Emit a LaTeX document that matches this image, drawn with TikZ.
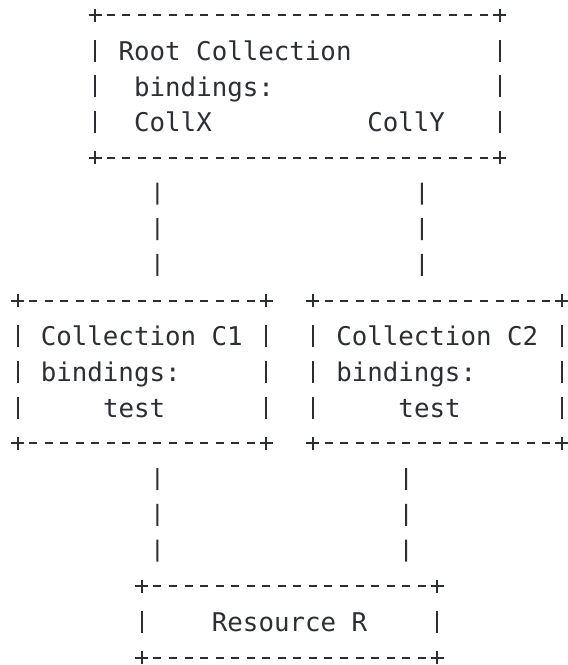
\documentclass[tikz,border=0pt]{standalone}
\usepackage{fontspec}
\setmonofont{DejaVu Sans Mono}
\usepackage{tikz}
\usetikzlibrary{positioning}
\definecolor{ink}{HTML}{2B2E33}
\newlength{\cw}\setlength{\cw}{15.55pt}
\newcommand{\colgap}[1]{\hspace*{#1\cw}}
\tikzstyle{ascii} = [rectangle, draw=none, inner xsep=1.5\cw, inner ysep=0pt, outer sep=0pt, align=left, text=ink, font=\ttfamily\fontsize{25.8}{35.7}\selectfont]
\tikzstyle{rootbox} = [ascii, text width=23\cw, minimum width=26\cw, minimum height=142.8pt]
\tikzstyle{collbox} = [ascii, text width=13\cw, minimum width=16\cw, minimum height=142.8pt]
\tikzstyle{resbox} = [ascii, align=center, text width=16\cw, minimum width=19\cw, minimum height=71.4pt]
\tikzstyle{hrule} = [draw=ink, line width=2pt, dash pattern=on 8pt off 7.55pt, dash phase=4pt]
\tikzstyle{vrule} = [draw=ink, line width=2pt, dash pattern=on 22pt off 13.7pt, shorten <=24.7pt, shorten >=24.7pt]
\newcommand{\corners}[1]{%
  \foreach \k in {north west,north east,south west,south east}
    \draw[ink, line width=2pt] ([xshift=-6.5pt]#1.\k) -- ([xshift=6.5pt]#1.\k)
      ([yshift=-6.5pt]#1.\k) -- ([yshift=6.5pt]#1.\k);}
\newcommand{\frameit}[1]{%
  \draw[hrule] (#1.north west) -- (#1.north east) (#1.south west) -- (#1.south east);
  \draw[vrule] (#1.north west) -- (#1.south west);
  \draw[vrule] (#1.north east) -- (#1.south east);
  \corners{#1}}
\begin{document}
\begin{tikzpicture}[x=1pt, y=-1pt]
  \useasboundingbox (0,0) rectangle (568,665);
  \node (root) [rootbox] at (297.4,86.4) {Root\colgap{1}Collection\\\colgap{1}bindings:\\\colgap{1}CollX\colgap{10}CollY};
  \node (c1) [collbox] at (141.9,372) {Collection\colgap{1}C1\\bindings:\\\colgap{4}test};
  \node (c2) [collbox, right=3\cw of c1] {Collection\colgap{1}C2\\bindings:\\\colgap{4}test};
  \node (res) [resbox] at (289.6,621.9) {Resource\colgap{1}R};
  \frameit{root}
  \frameit{c1}
  \frameit{c2}
  \frameit{res}
  \draw[vrule] ([xshift=4\cw]root.south west) -- ([xshift=9\cw]c1.north west);
  \draw[vrule] ([xshift=21\cw]root.south west) -- ([xshift=7\cw]c2.north west);
  \draw[vrule] ([xshift=9\cw]c1.south west) -- ([xshift=\cw]res.north west);
  \draw[vrule] ([xshift=6\cw]c2.south west) -- ([xshift=17\cw]res.north west);
\end{tikzpicture}
\end{document}
